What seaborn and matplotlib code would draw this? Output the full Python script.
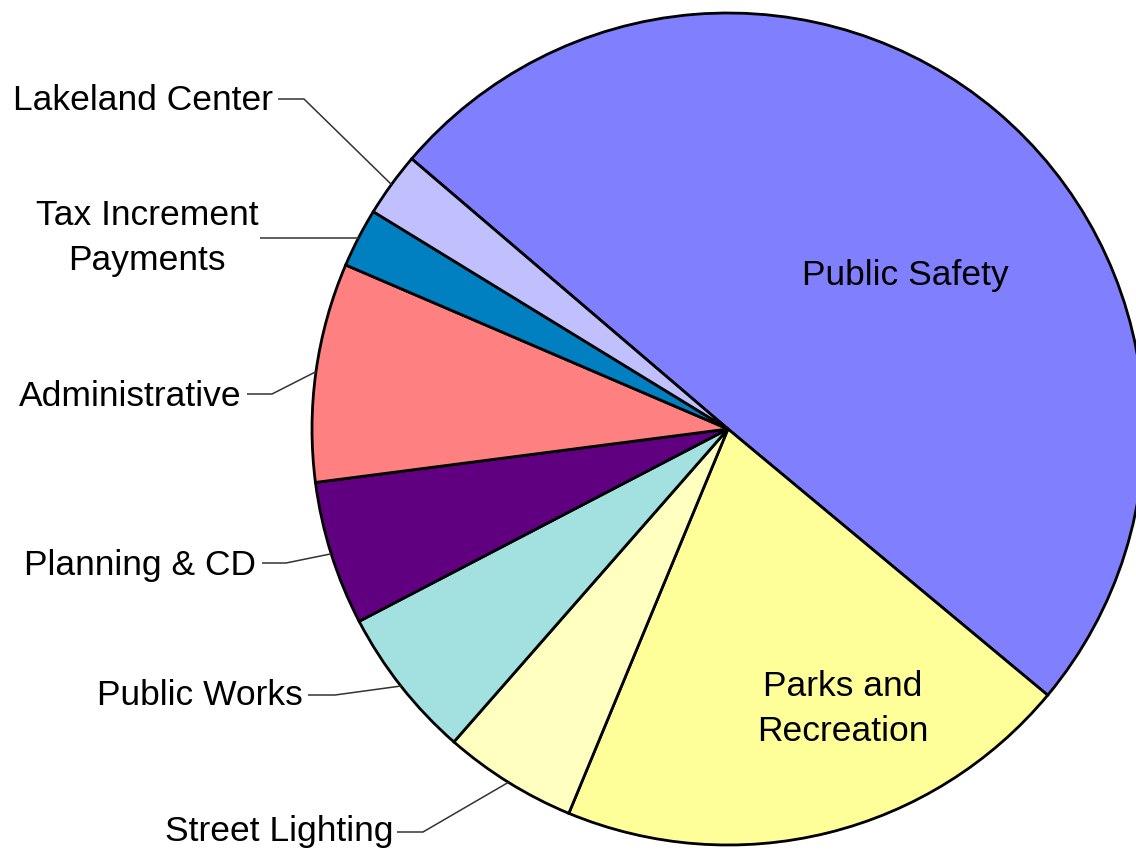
import numpy as np
import matplotlib
matplotlib.use("Agg")
import matplotlib.pyplot as plt
import seaborn as sns

# Budget shares by department (percent of total)
departments = ["Public Safety", "Parks and Recreation", "Street Lighting", "Public Works",
               "Planning & CD", "Administrative", "Tax Increment Payments", "Lakeland Center"]
shares = [49.8, 20.2, 5.2, 5.9, 5.6, 8.5, 2.3, 2.5]
colors = ["#8080FF", "#FFFF99", "#FFFFC0", "#A3E0E0", "#600080", "#FF8080", "#0080C0", "#C0C0FF"]

sns.set_theme(style="white")
plt.rcParams["font.family"] = ["Liberation Sans", "DejaVu Sans"]

W, H = 1136, 853
fig = plt.figure(figsize=(W / 100, H / 100), dpi=100)
ax = fig.add_axes([0, 0, 1, 1])

cx, cy, r = 728, H - 430, 416
wedges, _ = ax.pie(shares, colors=colors, startangle=139.5, counterclock=False,
                   center=(cx, cy), radius=r, frame=True,
                   wedgeprops=dict(edgecolor="black", linewidth=2))
ax.set_xlim(0, W)
ax.set_ylim(0, H)
ax.set_aspect("equal")
ax.axis("off")

fs = 25.5
ls = 1.46

# Labels drawn inside their slices
ax.text(905, H - 276, "Public Safety", ha="center", va="center", fontsize=fs, color="black")
ax.text(843, H - 709, "Parks and\nRecreation", ha="center", va="center", fontsize=fs,
        color="black", linespacing=ls)

# Outside labels: text anchor, leader start, elbow (pixel coords from top)
outside = {
    "Lakeland Center": dict(text=(273, 101), ha="right", start=(278, 100), elbow=(304, 100)),
    "Tax Increment Payments": dict(text=(147, 238), ha="center", start=(260, 237), elbow=None,
                                   label="Tax Increment\nPayments"),
    "Administrative": dict(text=(242, 396), ha="right", start=(247, 395), elbow=(272, 395)),
    "Planning & CD": dict(text=(256, 565), ha="right", start=(262, 564), elbow=(286, 564)),
    "Public Works": dict(text=(303, 696), ha="right", start=(308, 696), elbow=(335, 696)),
    "Street Lighting": dict(text=(393, 832), ha="right", start=(397, 833), elbow=(423, 833)),
}

for name, w in zip(departments, wedges):
    if name not in outside:
        continue
    o = outside[name]
    mid = np.deg2rad((w.theta1 + w.theta2) / 2)
    ex, ey = cx + r * np.cos(mid), cy + r * np.sin(mid)
    tx, ty = o["text"]
    ax.text(tx, H - ty, o.get("label", name), ha=o["ha"], va="center", fontsize=fs,
            color="black", linespacing=ls)
    sx, sy = o["start"]
    if o["elbow"] is None:
        xs, ys = [sx, ex], [ey, ey]
    else:
        bx, by = o["elbow"]
        xs, ys = [sx, bx, ex], [H - sy, H - by, ey]
    ax.plot(xs, ys, color="#333333", linewidth=1.1, solid_capstyle="butt")

fig.savefig("out.png", dpi=100)
